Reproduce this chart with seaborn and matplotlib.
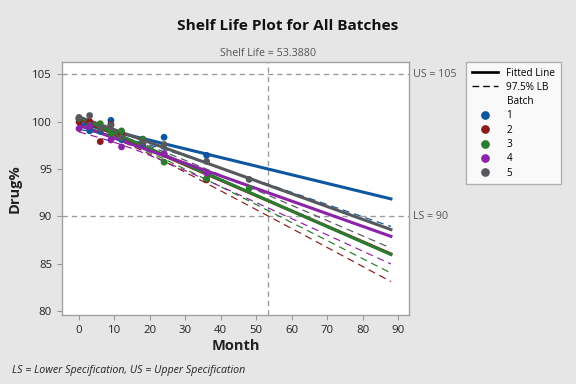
import numpy as np
import pandas as pd
import matplotlib
matplotlib.use("Agg")
import matplotlib.pyplot as plt
import matplotlib.transforms as mtransforms
from matplotlib.lines import Line2D
import seaborn as sns

# ---------------- data ----------------
months_1 = [0, 3, 6, 9, 12, 18, 24, 36]
drug_1 = [100.30, 99.04, 98.98, 100.14, 98.11, 97.67, 98.36, 96.45]
months_2 = [0, 3, 6, 9, 12, 18, 24, 36]
drug_2 = [99.97, 100.03, 97.90, 99.72, 98.69, 98.15, 96.58, 93.86]
months_3 = [0, 3, 6, 9, 12, 18, 24, 36, 48]
drug_3 = [100.34, 99.63, 99.79, 98.75, 99.03, 98.15, 95.73, 94.01, 92.97]
months_4 = [0, 3, 6, 9, 12, 18, 24, 36]
drug_4 = [99.27, 99.53, 99.24, 98.07, 97.34, 97.76, 96.63, 94.59]
months_5 = [0, 3, 6, 9, 12, 18, 24, 36, 48]
drug_5 = [100.45, 100.65, 99.25, 99.62, 98.33, 97.85, 97.59, 95.81, 93.91]

batch_labels = ["1", "2", "3", "4", "5"]
batch_colors = ["#0d56a0", "#8a1c1c", "#2a7d2e", "#8c23a8", "#56585c"]
SHELF_LIFE = 53.3880
LS, US = 90, 105
T_975 = 2.037          # t quantile, one-sided 97.5 %, pooled error df
x_ticks = [0, 10, 20, 30, 40, 50, 60, 70, 80, 90]
y_ticks = [80, 85, 90, 95, 100, 105]
title = "Shelf Life Plot for All Batches"
footnote = "LS = Lower Specification, US = Upper Specification"

# ---------------- tidy frame ----------------
all_months = [months_1, months_2, months_3, months_4, months_5]
all_drug = [drug_1, drug_2, drug_3, drug_4, drug_5]
df = pd.concat(
    [pd.DataFrame({"Month": m, "Drug%": d, "Batch": b})
     for m, d, b in zip(all_months, all_drug, batch_labels)],
    ignore_index=True)

# pooled-error regression with separate slopes / intercepts
fits = {}
sse = 0.0
for b, g in df.groupby("Batch"):
    slope, icpt = np.polyfit(g["Month"], g["Drug%"], 1)
    res = g["Drug%"] - (icpt + slope * g["Month"])
    sse += float((res ** 2).sum())
    fits[b] = (icpt, slope, len(g), g["Month"].mean(),
               float(((g["Month"] - g["Month"].mean()) ** 2).sum()))
dof = len(df) - 2 * len(batch_labels)
s = np.sqrt(sse / dof)

grid = np.linspace(0, 88, 200)
rows = []
for b in batch_labels:
    icpt, slope, n, xbar, sxx = fits[b]
    yhat = icpt + slope * grid
    lb = yhat - T_975 * s * np.sqrt(1 / n + (grid - xbar) ** 2 / sxx)
    rows.append(pd.DataFrame({"Month": grid, "fit": yhat, "lb": lb, "Batch": b}))
curves = pd.concat(rows, ignore_index=True)

# ---------------- figure ----------------
plt.rcParams["font.family"] = ["Open Sans", "DejaVu Sans"]
fig = plt.figure(figsize=(6, 4), dpi=96, facecolor="#e6e6e6")
ax = fig.add_axes([62 / 576, 1 - 315 / 384, (409 - 62) / 576, (315 - 62) / 384])
ax.set_facecolor("white")

pal = dict(zip(batch_labels, batch_colors))
sns.lineplot(data=curves, x="Month", y="lb", hue="Batch", palette=pal,
             linewidth=0.9, dashes=False, legend=False, ax=ax, sort=False,
             linestyle=(0, (6, 4)))
sns.lineplot(data=curves, x="Month", y="fit", hue="Batch", palette=pal,
             linewidth=2.3, legend=False, ax=ax, sort=False)
sns.scatterplot(data=df, x="Month", y="Drug%", hue="Batch", palette=pal,
                s=26, edgecolor="none", legend=False, ax=ax, zorder=5)

ref_col = "#9a9a9a"
ax.axhline(US, color=ref_col, lw=1, ls=(0, (4, 3)), zorder=0)
ax.axhline(LS, color=ref_col, lw=1, ls=(0, (4, 3)), zorder=0)
ax.axvline(SHELF_LIFE, color=ref_col, lw=1, ls=(0, (4, 3)), zorder=0)

trans = mtransforms.blended_transform_factory(ax.transAxes, ax.transData)
ax.text(1.012, US, f"US = {US}", transform=trans, va="center", ha="left",
        fontsize=8, color="#555555")
ax.text(1.012, LS, f"LS = {LS}", transform=trans, va="center", ha="left",
        fontsize=8, color="#555555")
ax.text(SHELF_LIFE, 1.012, f"Shelf Life = {SHELF_LIFE:.4f}",
        transform=mtransforms.blended_transform_factory(ax.transData, ax.transAxes),
        ha="center", va="bottom", fontsize=8, color="#555555")

ax.set_xlim(-4.8, 93.1)
ax.set_ylim(79.6, 106.3)
ax.set_xticks(x_ticks)
ax.set_yticks(y_ticks)
ax.tick_params(colors="#999999", labelcolor="#222222", labelsize=8.5,
               length=4, width=0.8)
for sp in ax.spines.values():
    sp.set_color("#a0a0a0")
    sp.set_linewidth(1)
ax.set_xlabel("Month", fontsize=11, fontweight="bold", color="#222222", labelpad=2)
ax.set_ylabel("Drug%", fontsize=11, fontweight="bold", color="#222222", labelpad=8)

fig.text(0.5, 1 - 26 / 384, title, ha="center", va="center",
         fontsize=11.5, fontweight="bold", color="#111111")
fig.text(12 / 576, 1 - 370 / 384, footnote, ha="left", va="center",
         fontsize=8, style="italic", color="#222222")

handles = [Line2D([0], [0], color="black", lw=2),
           Line2D([0], [0], color="black", lw=1, ls=(0, (5, 3))),
           Line2D([], [], alpha=0)]
labels = ["Fitted Line", "97.5% LB", "Batch"]
for b, c in zip(batch_labels, batch_colors):
    handles.append(Line2D([0], [0], marker="o", ls="", color=c, markersize=5.5))
    labels.append(b)
leg = fig.legend(handles, labels, loc="upper left",
                 bbox_to_anchor=(466 / 576, 1 - 62 / 384), fontsize=7.5,
                 frameon=True, fancybox=False, edgecolor="#a0a0a0",
                 handlelength=2.6, labelspacing=0.33, borderpad=0.55,
                 handletextpad=0.9, borderaxespad=0)
leg.get_frame().set_linewidth(1)

fig.savefig("out.png", dpi=96, facecolor=fig.get_facecolor())
